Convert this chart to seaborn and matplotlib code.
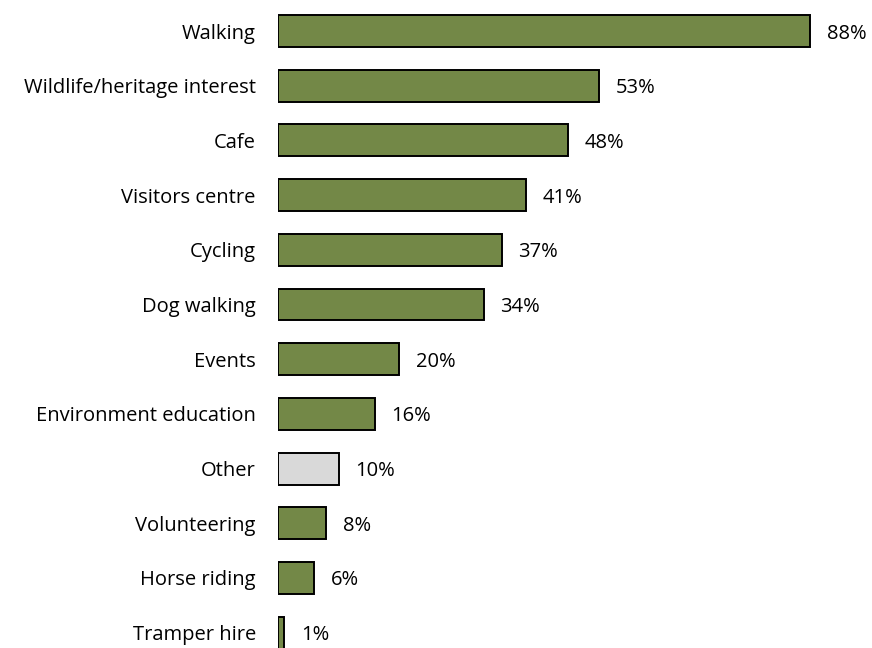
import matplotlib
matplotlib.use("Agg")
import matplotlib.pyplot as plt
import seaborn as sns
import pandas as pd

activities = ["Walking", "Wildlife/heritage interest", "Cafe", "Visitors centre",
              "Cycling", "Dog walking", "Events", "Environment education",
              "Other", "Volunteering", "Horse riding", "Tramper hire"]
shares = [88, 53, 48, 41, 37, 34, 20, 16, 10, 8, 6, 1]
groups = ["main"] * 8 + ["other"] + ["main"] * 3
palette = {"main": "#77933C", "other": "#D9D9D9"}

df = pd.DataFrame({"activity": activities, "share": shares, "group": groups})

sns.set_style("white")
plt.rcParams["font.family"] = ["Open Sans", "DejaVu Sans"]
FS = 14.5

fig = plt.figure(figsize=(8.72, 6.48), dpi=100)
ax = fig.add_axes([278 / 872, 0, 1 - 278 / 872, 1])

sns.barplot(data=df, y="activity", x="share", hue="group", palette=palette,
            orient="h", dodge=False, legend=False, width=0.585,
            edgecolor="black", linewidth=1.4, ax=ax)

for i, v in enumerate(shares):
    ax.annotate(f"{v}%", xy=(v, i), xytext=(12, 0), textcoords="offset points",
                va="center_baseline", ha="left", fontsize=FS, color="black")

ax.set_xlim(0, (872 - 278) / 6.05)
ax.set_ylim(11.28, -0.567)
ax.set_xlabel("")
ax.set_ylabel("")
ax.set_xticks([])
ax.tick_params(axis="y", length=0, pad=16, labelsize=FS, labelcolor="black")
for s in ax.spines.values():
    s.set_visible(False)

fig.savefig("out.png", dpi=100)
